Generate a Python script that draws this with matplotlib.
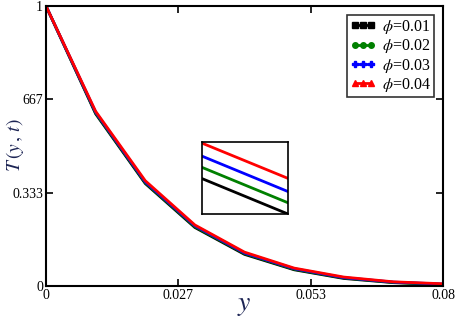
import numpy as np
import matplotlib.pyplot as plt

# datos
y_vals = [0, 0.01, 0.02, 0.03, 0.04, 0.05, 0.06, 0.07, 0.08]
T_001 = [1, 0.615, 0.366, 0.209, 0.113, 0.058, 0.027, 0.012, 0.005]
T_002 = [1, 0.618, 0.369, 0.212, 0.116, 0.060, 0.029, 0.013, 0.006]
T_003 = [1, 0.621, 0.372, 0.215, 0.118, 0.062, 0.030, 0.014, 0.007]
T_004 = [1, 0.624, 0.376, 0.218, 0.121, 0.064, 0.032, 0.015, 0.008]
series = [T_001, T_002, T_003, T_004]
labels = [r'$\phi$=0.01', r'$\phi$=0.02', r'$\phi$=0.03', r'$\phi$=0.04']
colores = ['black', 'green', 'blue', 'red']
marcas = ['s', 'o', 'P', '^']

xticks = [0, 0.08/3, 0.16/3, 0.08]
xtick_labels = ['0', '0.027', '0.053', '0.08']
yticks = [0, 1/3, 2/3, 1]
ytick_labels = ['0', '0.333', '667', '1']

plt.rcParams['font.family'] = 'Liberation Serif'
plt.rcParams['mathtext.fontset'] = 'stix'

fig = plt.figure(figsize=(4.61, 3.19), dpi=100)
ax = fig.add_axes([0.0998, 0.1034, 0.8612, 0.8777])

for T, lab, c, m in zip(series, labels, colores, marcas):
    ax.plot(y_vals, T, color=c, lw=2, label=lab)

ax.set_xlim(0, 0.08)
ax.set_ylim(0, 1)
ax.set_xticks(xticks)
ax.set_xticklabels(xtick_labels)
ax.set_yticks(yticks)
ax.set_yticklabels(ytick_labels)
ax.tick_params(direction='in', top=True, right=True, length=5, width=1.2,
               labelsize=10, pad=2)
for s in ax.spines.values():
    s.set_linewidth(1.5)

ax.set_xlabel(r'$y$', fontsize=20, color='#1c2454', labelpad=-6)
ax.set_ylabel(r'$T\,(y\,,\,t)$', fontsize=14, color='#1c2454')
ax.yaxis.set_label_coords(-0.05, 0.503)

# leyenda con marcadores
handles = [plt.Line2D([0], [0], color=c, lw=2, marker=m, markersize=4)
           for c, m in zip(colores, marcas)]
leg = ax.legend(handles, labels, loc='upper right', fontsize=11.5, frameon=True,
                fancybox=False, edgecolor='black', markerfirst=True,
                handlelength=1.6, handletextpad=0.4, borderpad=0.2,
                labelspacing=0.08, numpoints=3, borderaxespad=0.55)
leg.get_frame().set_linewidth(1.2)

# recuadro de aumento
axi = fig.add_axes([202/461, 1 - 214/319, 86/461, 72/319])
x0, x1 = 0.0148, 0.01518
for T, c in zip(series, colores):
    axi.plot(y_vals, T, color=c, lw=2)
top = np.interp(x0, y_vals, T_004) + 0.0003
bot = np.interp(x1, y_vals, T_001)
axi.set_xlim(x0, x1)
axi.set_ylim(bot, top)
axi.set_xticks([])
axi.set_yticks([])
for s in axi.spines.values():
    s.set_linewidth(1.2)

fig.savefig('out.png', dpi=100)
